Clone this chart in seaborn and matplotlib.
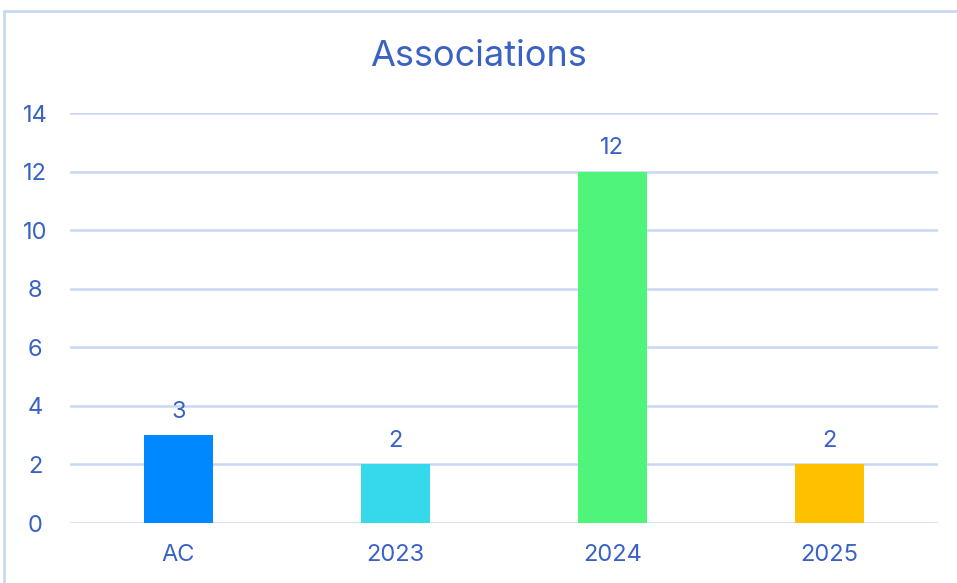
import matplotlib
matplotlib.use("Agg")
import matplotlib.pyplot as plt
import seaborn as sns
import pandas as pd
from matplotlib.lines import Line2D

categories = ["AC", "2023", "2024", "2025"]
values = [3, 2, 12, 2]
colors = ["#0088FF", "#36D9EB", "#4FF57A", "#FFC000"]
yticks = [0, 2, 4, 6, 8, 10, 12, 14]
title = "Associations"

sns.set_theme(style="white")
plt.rcParams['font.family'] = ['Inter', 'DejaVu Sans']
txt = "#3A62C4"
grid = "#C8D8F2"

df = pd.DataFrame({"cat": categories, "val": values})
fig = plt.figure(figsize=(9.57, 5.83), dpi=100)
ax = fig.add_axes([0.0731, 0.1029, 0.9069, 0.7032])
sns.barplot(data=df, x="cat", y="val", hue="cat", palette=colors, width=0.315,
            legend=False, ax=ax, saturation=1, linewidth=0)
ax.set_ylim(0, 14)
ax.set_xlim(-0.5, 3.5)
ax.set_yticks(yticks)
ax.yaxis.grid(True, color=grid, linewidth=1.8)
ax.set_axisbelow(True)
for s in ax.spines.values():
    s.set_visible(False)
ax.set_xlabel("")
ax.set_ylabel("")
ax.tick_params(axis="both", length=0, labelsize=17, colors=txt)
ax.tick_params(axis="x", pad=15)
ax.tick_params(axis="y", pad=25)
for lab in ax.get_yticklabels():
    lab.set_horizontalalignment("center")
for c in ax.containers:
    ax.bar_label(c, padding=9, fontsize=17, color=txt)
fig.text(0.5, 1 - 57/583, title, ha="center", va="center", fontsize=26, color=txt)
# frame
fig.add_artist(Line2D([4/957, 4/957], [0, 1 - 11/583], color=grid, lw=2, transform=fig.transFigure))
fig.add_artist(Line2D([4/957, 1], [1 - 11/583, 1 - 11/583], color=grid, lw=2, transform=fig.transFigure))
fig.savefig("out.png", dpi=100, facecolor="white")
